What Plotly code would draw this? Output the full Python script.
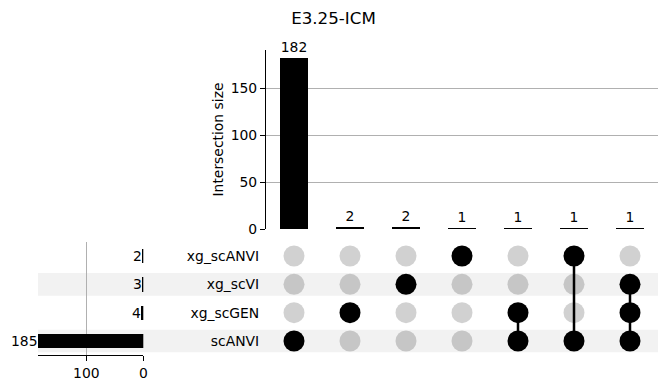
import plotly.graph_objects as go

# ---- data ----
categories = ["scANVI", "xg_scGEN", "xg_scVI", "xg_scANVI"]  # bottom to top
set_sizes = [185, 4, 3, 2]
intersection_sizes = [182, 2, 2, 1, 1, 1, 1]
# membership per intersection column, in order of categories
membership = [
    [1, 0, 0, 0],
    [0, 1, 0, 0],
    [0, 0, 1, 0],
    [0, 0, 0, 1],
    [1, 1, 0, 0],
    [1, 0, 0, 1],
    [1, 1, 1, 0],
]
top_ticks = [0, 50, 100, 150]
left_ticks = [100, 0]
title = "E3.25-ICM"

W, H = 667, 391
fx = lambda p: p / W
fy = lambda p: 1 - p / H
FONT = "DejaVu Sans"
FS = 13.9
GRID = "#b0b0b0"

fig = go.Figure()
cols = list(range(len(intersection_sizes)))

# top intersection bars
fig.add_trace(go.Bar(
    x=cols, y=intersection_sizes, width=0.5, marker=dict(color="black", line=dict(width=0)),
    text=[str(v) for v in intersection_sizes], textposition="outside",
    textfont=dict(size=FS, color="black", family=FONT), cliponaxis=False,
    xaxis="x", yaxis="y", showlegend=False, hoverinfo="skip"))

# matrix: inactive dots
ix, iy, ax_, ay = [], [], [], []
for c, mem in enumerate(membership):
    for r, m in enumerate(mem):
        if m:
            ax_.append(c); ay.append(r)
        else:
            ix.append(c); iy.append(r)
fig.add_trace(go.Scatter(x=ix, y=iy, mode="markers", xaxis="x2", yaxis="y2",
                         marker=dict(size=21, color="rgba(0,0,0,0.18)", line=dict(width=0)),
                         showlegend=False, hoverinfo="skip"))
# connecting lines
for c, mem in enumerate(membership):
    rows = [r for r, m in enumerate(mem) if m]
    if len(rows) > 1:
        fig.add_trace(go.Scatter(x=[c, c], y=[min(rows), max(rows)], mode="lines",
                                 xaxis="x2", yaxis="y2", line=dict(color="black", width=2.5),
                                 showlegend=False, hoverinfo="skip"))
fig.add_trace(go.Scatter(x=ax_, y=ay, mode="markers", xaxis="x2", yaxis="y2",
                         marker=dict(size=21, color="black", line=dict(width=0)),
                         showlegend=False, hoverinfo="skip"))

# left set-size bars
fig.add_trace(go.Bar(y=list(range(len(categories))), x=set_sizes, orientation="h", width=0.5,
                     marker=dict(color="black", line=dict(width=0)),
                     xaxis="x3", yaxis="y3", showlegend=False, hoverinfo="skip"))
annotations = []
for r, v in enumerate(set_sizes):
    annotations.append(dict(x=v, y=r, xref="x3", yref="y3", text=str(v), showarrow=False,
                            xanchor="right", yanchor="middle", xshift=2,
                            font=dict(size=FS, color="black", family=FONT)))

shapes = []
for r in range(len(categories)):
    if r % 2 == 0:
        shapes.append(dict(type="rect", xref="paper", yref="y2", x0=fx(38), x1=fx(658),
                           y0=r - 0.4, y1=r + 0.4, fillcolor="#f2f2f2", line=dict(width=0),
                           layer="below"))

fig.update_layout(
    autosize=True, margin=dict(l=0, r=0, t=0, b=0, autoexpand=False),
    plot_bgcolor="rgba(0,0,0,0)", paper_bgcolor="white",
    font=dict(family=FONT, size=FS, color="black"),
    title=dict(text=title, x=0.5, xanchor="center", y=fy(18), yanchor="middle",
               font=dict(size=16.7, family=FONT, color="black")),
    bargap=0,
    xaxis=dict(domain=[fx(266), fx(658)], range=[-0.5, 6.5], visible=False, anchor="y"),
    yaxis=dict(domain=[fy(229), fy(50)], range=[0, 191], anchor="x",
               showline=True, linecolor="black", linewidth=1.1, ticks="outside", ticklen=5,
               tickcolor="black", tickvals=top_ticks, showgrid=False, zeroline=False,
               minor=dict(tickvals=[t for t in top_ticks if t != 0], showgrid=True,
                          gridcolor=GRID, gridwidth=1, ticks=""),
               title=dict(text="Intersection size", font=dict(size=FS), standoff=3),
               tickfont=dict(size=FS)),
    xaxis2=dict(domain=[fx(266), fx(658)], range=[-0.5, 6.5], visible=False, anchor="y2"),
    yaxis2=dict(domain=[fy(355.2), fy(241.8)], range=[-0.5, 3.5], anchor="x2",
                tickvals=list(range(len(categories))), ticktext=categories,
                showline=False, showgrid=False, zeroline=False, ticks="outside",
                ticklen=3, tickcolor="rgba(0,0,0,0)", tickfont=dict(size=FS)),
    xaxis3=dict(domain=[fx(37.6), fx(143.3)], range=[185.5, 0], anchor="y3",
                showline=True, linecolor="black", linewidth=1.1, ticks="outside", ticklen=5,
                tickcolor="black", tickvals=left_ticks, showgrid=False, zeroline=False,
                minor=dict(tickvals=[t for t in left_ticks if t != 0], showgrid=True,
                           gridcolor=GRID, gridwidth=1, ticks=""),
                tickfont=dict(size=FS)),
    yaxis3=dict(domain=[fy(355.2), fy(241.8)], range=[-0.5, 3.5], anchor="x3",
                visible=False),
    annotations=annotations, shapes=shapes,
)

post = ("document.documentElement.style.margin='0';"
        "document.documentElement.style.overflow='hidden';"
        "document.body.style.margin='0';"
        "document.body.style.overflow='hidden';")
fig.write_html("out.html", config={"displayModeBar": False, "responsive": True},
               default_width="100vw", default_height="100vh", post_script=post)
